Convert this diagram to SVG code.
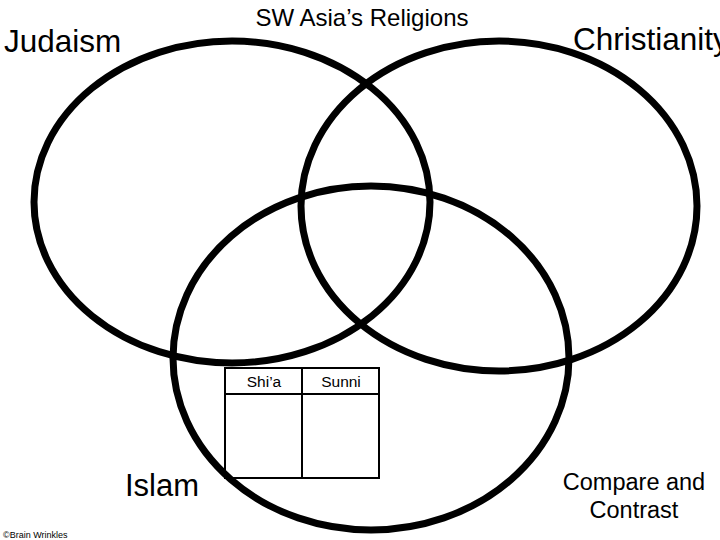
<svg xmlns="http://www.w3.org/2000/svg" width="720" height="540" viewBox="0 0 720 540">
<style>
.ring{fill:none;stroke:#000;stroke-width:7}
.t{font-family:"Liberation Sans",Arial,sans-serif;fill:#000}
.cell{fill:none;stroke:#000;stroke-width:2}
</style>
<rect width="720" height="540" fill="#fff"/>
<g id="judaism">
<ellipse class="ring" cx="232" cy="202" rx="198" ry="161"/>
<text class="t" x="4" y="52" font-size="31.5">Judaism</text>
</g>
<g id="christianity">
<ellipse class="ring" cx="499" cy="206" rx="198" ry="165"/>
<text class="t" x="573" y="50" font-size="31.5">Christianity</text>
</g>
<g id="islam">
<ellipse class="ring" cx="371" cy="358" rx="198" ry="172"/>
<text class="t" x="125" y="496" font-size="31">Islam</text>
</g>
<g id="title">
<text class="t" x="362" y="26" font-size="24" text-anchor="middle">SW Asia’s Religions</text>
</g>
<g id="table">
<rect class="cell" x="225" y="368" width="154" height="110"/>
<line class="cell" x1="302" y1="368" x2="302" y2="478"/>
<line class="cell" x1="225" y1="394" x2="379" y2="394"/>
<text class="t" x="264" y="387" font-size="15.5" text-anchor="middle">Shi’a</text>
<text class="t" x="341" y="387" font-size="15.5" text-anchor="middle">Sunni</text>
</g>
<g id="compare">
<text class="t" x="634" y="490" font-size="23.5" text-anchor="middle">Compare and</text>
<text class="t" x="634" y="518" font-size="23.5" text-anchor="middle">Contrast</text>
</g>
<g id="credit">
<text class="t" x="3" y="538" font-size="9" fill="#444">©Brain Wrinkles</text>
</g>
<g id="connectors"></g>
</svg>
